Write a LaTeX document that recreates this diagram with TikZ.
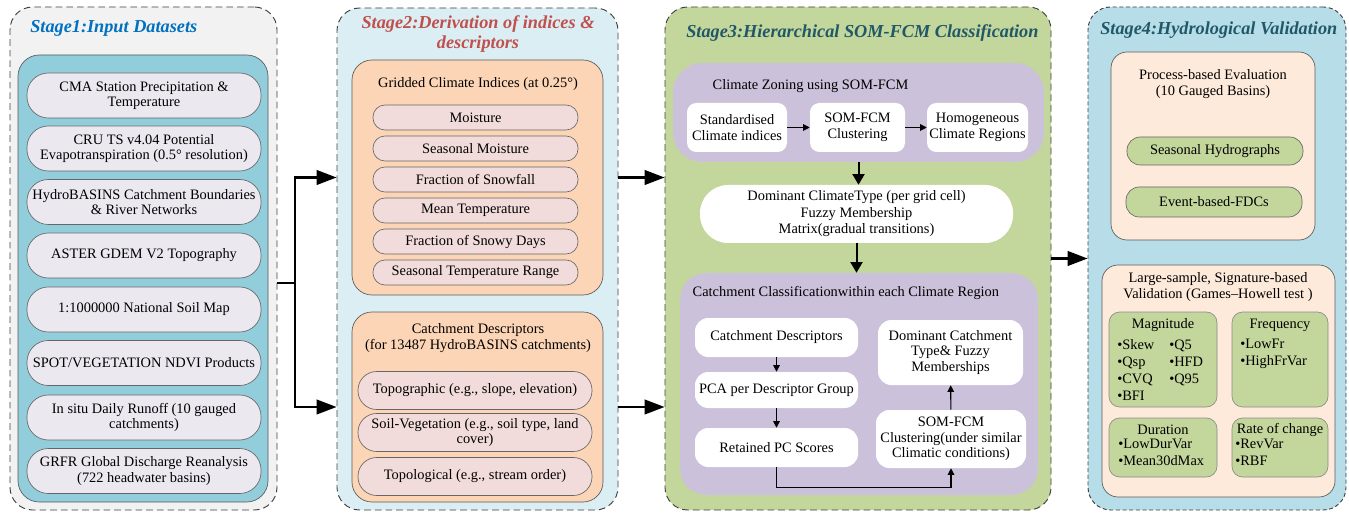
\documentclass[tikz,border=0pt]{standalone}
\usepackage{fontspec}
\setmainfont{Liberation Serif}
\usetikzlibrary{arrows.meta,positioning}
\definecolor{sonefill}{RGB}{242,242,242}
\definecolor{sonein}{RGB}{146,205,220}
\definecolor{lavpill}{RGB}{235,232,240}
\definecolor{stwofill}{RGB}{219,238,244}
\definecolor{peach}{RGB}{251,213,181}
\definecolor{pinkpill}{RGB}{242,220,219}
\definecolor{olive}{RGB}{195,214,155}
\definecolor{lilac}{RGB}{204,193,218}
\definecolor{sfourfill}{RGB}{183,222,232}
\definecolor{cream}{RGB}{253,234,218}
\definecolor{tblue}{RGB}{0,112,192}
\definecolor{tred}{RGB}{192,80,77}
\definecolor{tteal}{RGB}{33,88,104}

\begin{document}
\begin{tikzpicture}[x=0.75pt,y=-0.75pt,font=\fontsize{10.8}{11.6}\selectfont,
    sz/.style 2 args={minimum width=#1*0.75pt,minimum height=#2*0.75pt},
    stage/.style={draw=black!75,line width=0.7pt,dash pattern=on 5pt off 3pt,rounded corners=17pt,inner sep=0pt},
    panel/.style={draw=black!65,line width=0.5pt,rounded corners=#1,inner sep=0pt},
    pill/.style={draw=black!60,line width=0.5pt,rounded corners=#1,align=center,inner sep=1pt},
    wbox/.style={fill=white,rounded corners=#1,align=center,inner sep=1pt},
    ttl/.style={font=\fontsize{13.7}{14.5}\selectfont\bfseries\itshape,inner sep=0pt},
    bigarrow/.style={line width=1.6pt,-{Triangle[length=15pt,width=11pt]}},
    midarrow/.style={line width=1.5pt,-{Triangle[length=8pt,width=9pt]}},
    sarrow/.style={line width=0.8pt,-{Triangle[length=5pt,width=5pt]}}]
  \useasboundingbox (0,0) rectangle (1349,513);

  \node[stage,fill=sonefill,sz={267}{503}] (s1) at (143.5,258.5) {};
  \node[ttl,text=tblue,anchor=west] (t1) at (30,28) {Stage1:Input Datasets};
  \node[panel=16pt,fill=sonein,sz={250}{447}] (s1in) at (143,278.5) {};
  \node[pill=16pt,fill=lavpill,sz={234}{45}] (d1) at (144,95.5) {CMA Station Precipitation \&\\Temperature};
  \node[pill=16pt,fill=lavpill,sz={234}{45}] (d2) at (144,148.5) {CRU TS v4.04 Potential\\Evapotranspiration (0.5° resolution)};
  \node[pill=16pt,fill=lavpill,sz={234}{45}] (d3) at (144,202) {HydroBASINS Catchment Boundaries\\\& River Networks};
  \node[pill=16pt,fill=lavpill,sz={234}{45}] (d4) at (144,255.5) {ASTER GDEM V2 Topography};
  \node[pill=16pt,fill=lavpill,sz={234}{45}] (d5) at (144,309.5) {1:1000000 National Soil Map};
  \node[pill=16pt,fill=lavpill,sz={234}{45}] (d6) at (144,363) {SPOT/VEGETATION NDVI Products};
  \node[pill=16pt,fill=lavpill,sz={234}{45}] (d7) at (144,417.5) {In situ Daily Runoff (10 gauged\\catchments)};
  \node[pill=16pt,fill=lavpill,sz={234}{45}] (d8) at (144,471) {GRFR Global Discharge Reanalysis\\(722 headwater basins)};

  \node[stage,fill=stwofill,sz={281}{502}] (s2) at (477.5,259) {};
  \node[ttl,text=tred,align=center] (t2) at (478,34) {Stage2:Derivation of indices \&\\descriptors};
  \node[panel=15pt,fill=peach,sz={251}{235}] (gci) at (477.5,177.5) {};
  \node (gcit) at (478,84) {Gridded Climate Indices (at 0.25°)};
  \node[pill=9pt,fill=pinkpill,sz={205}{25}] (c1) at (475.5,117.5) {Moisture};
  \node[pill=9pt,fill=pinkpill,sz={205}{25}] (c2) at (475.5,148.5) {Seasonal Moisture};
  \node[pill=9pt,fill=pinkpill,sz={205}{25}] (c3) at (475.5,179.5) {Fraction of Snowfall};
  \node[pill=9pt,fill=pinkpill,sz={205}{25}] (c4) at (475.5,210.5) {Mean Temperature};
  \node[pill=9pt,fill=pinkpill,sz={205}{25}] (c5) at (475.5,241.5) {Fraction of Snowy Days};
  \node[pill=9pt,fill=pinkpill,sz={205}{25}] (c6) at (475.5,272.5) {Seasonal Temperature Range};
  \node[panel=15pt,fill=peach,sz={251}{190}] (cdp) at (477.5,407) {};
  \node[align=center] (cdpt) at (478,338) {Catchment Descriptors\\(for 13487 HydroBASINS catchments)};
  \node[pill=14pt,fill=pinkpill,sz={234}{38}] (e1) at (475,390.5) {Topographic (e.g., slope, elevation)};
  \node[pill=14pt,fill=pinkpill,sz={234}{38}] (e2) at (475,432.5) {Soil-Vegetation (e.g., soil type, land\\cover)};
  \node[pill=14pt,fill=pinkpill,sz={234}{38}] (e3) at (475,476.5) {Topological (e.g., stream order)};

  \node[stage,fill=olive,sz={386}{503}] (s3) at (858,258.5) {};
  \node[ttl,text=tteal,anchor=west] (t3) at (686,33) {Stage3:Hierarchical SOM-FCM Classification};
  \node[fill=lilac,rounded corners=22pt,sz={371}{99}] (cz) at (858.5,112.5) {};
  \node[anchor=west] (czt) at (708,86) {Climate Zoning using SOM-FCM};
  \node[wbox=7pt,sz={100}{49}] (std) at (737,127.5) {Standardised\\Climate indices};
  \node[wbox=7pt,sz={95}{49}] (som) at (857.5,127.5) {SOM-FCM\\Clustering};
  \node[wbox=7pt,sz={101}{49}] (hom) at (977.5,127.5) {Homogeneous\\Climate Regions};
  \node[wbox=21pt,sz={313}{58},font=\fontsize{10.8}{12.4}\selectfont] (dom) at (856.5,214) {Dominant ClimateType (per grid cell)\\Fuzzy Membership\\Matrix(gradual transitions)};
  \node[fill=lilac,rounded corners=20pt,sz={358}{222}] (cc) at (859,384) {};
  \node[anchor=west] (cct) at (688,293) {Catchment Classificationwithin each Climate Region};
  \node[wbox=10pt,sz={163}{39}] (cd) at (776.5,337.5) {Catchment Descriptors};
  \node[wbox=10pt,sz={163}{36}] (pca) at (776.5,390) {PCA per Descriptor Group};
  \node[wbox=10pt,sz={163}{39}] (rpc) at (776.5,447.5) {Retained PC Scores};
  \node[wbox=10pt,sz={145}{65}] (dct) at (950.5,352.5) {Dominant Catchment\\Type\& Fuzzy\\Memberships};
  \node[wbox=10pt,sz={150}{58}] (sfc) at (951,439) {SOM-FCM\\Clustering(under similar\\Climatic conditions)};
  \draw[sarrow] (std) -- (som);
  \draw[sarrow] (som) -- (hom);
  \draw[midarrow] (cz.south) -- (cz.south |- dom.north);
  \draw[midarrow] (dom.south) -- (dom.south |- cc.north);
  \draw[sarrow] (cd) -- (pca);
  \draw[sarrow] (pca) -- (rpc);
  \draw[sarrow] (rpc.south) -- ++(0,20) -| (sfc.south);
  \draw[sarrow] (sfc) -- (dct);

  \node[stage,dash pattern=on 3pt off 2pt,fill=sfourfill,sz={258}{503}] (s4) at (1217,258.5) {};
  \node[ttl,text=tteal,anchor=west] (t4) at (1100,30) {Stage4:Hydrological Validation};
  \node[panel=12pt,fill=cream,sz={204}{188}] (pbe) at (1213,146) {};
  \node[align=center] (pbet) at (1213,84) {Process-based Evaluation\\(10 Gauged Basins)};
  \node[pill=10pt,fill=olive,sz={176}{28}] (sh) at (1215,151) {Seasonal Hydrographs};
  \node[pill=10pt,fill=olive,sz={176}{30}] (ef) at (1214,202) {Event-based-FDCs};
  \node[panel=12pt,fill=cream,sz={233}{232}] (ls) at (1218.5,381) {};
  \node[align=center] (lst) at (1218,287) {Large-sample, Signature-based\\Validation (Games–Howell test )};
  \node[panel=8pt,draw=black!45,fill=olive,sz={108}{95}] (mag) at (1163,359.5) {};
  \node[panel=8pt,draw=black!45,fill=olive,sz={96}{95}] (fre) at (1280,359.5) {};
  \node[panel=8pt,draw=black!45,fill=olive,sz={108}{59}] (dur) at (1163,447.5) {};
  \node[panel=8pt,draw=black!45,fill=olive,sz={96}{59}] (roc) at (1280,447.5) {};
  \node (magt) at (1163,325) {Magnitude};
  \node[anchor=north west,align=left,inner sep=0pt,font=\fontsize{10.8}{12.8}\selectfont] (magl) at (1117,339) {\makebox[39pt][l]{\textbullet Skew}\textbullet Q5\\\makebox[39pt][l]{\textbullet Qsp}\textbullet HFD\\\makebox[39pt][l]{\textbullet CVQ}\textbullet Q95\\\textbullet BFI};
  \node (fret) at (1280,325) {Frequency};
  \node[anchor=north west,align=left,inner sep=0pt,font=\fontsize{10.8}{12.8}\selectfont] (frel) at (1240,339) {\textbullet LowFr\\\textbullet HighFrVar};
  \node (durt) at (1163,430) {Duration};
  \node[anchor=north west,align=left,inner sep=0pt,font=\fontsize{10.8}{12.3}\selectfont] (durl) at (1118,439) {\textbullet LowDurVar\\\textbullet Mean30dMax};
  \node (roct) at (1280,430) {Rate of change};
  \node[anchor=north west,align=left,inner sep=0pt,font=\fontsize{10.8}{12.3}\selectfont] (rocl) at (1235,439) {\textbullet RevVar\\\textbullet RBF};

  \coordinate (j1) at (295,283);
  \draw[line width=1.6pt] (s1.east |- j1) -- (j1);
  \draw[bigarrow] (j1) |- (s2.west |- gci);
  \draw[bigarrow] (j1) |- (s2.west |- cdp);
  \draw[bigarrow] (s2.east |- gci) -- (s3.west |- gci);
  \draw[bigarrow] (s2.east |- cdp) -- (s3.west |- cdp);
  \draw[bigarrow] (s3.east) -- (s4.west);
\end{tikzpicture}
\end{document}
